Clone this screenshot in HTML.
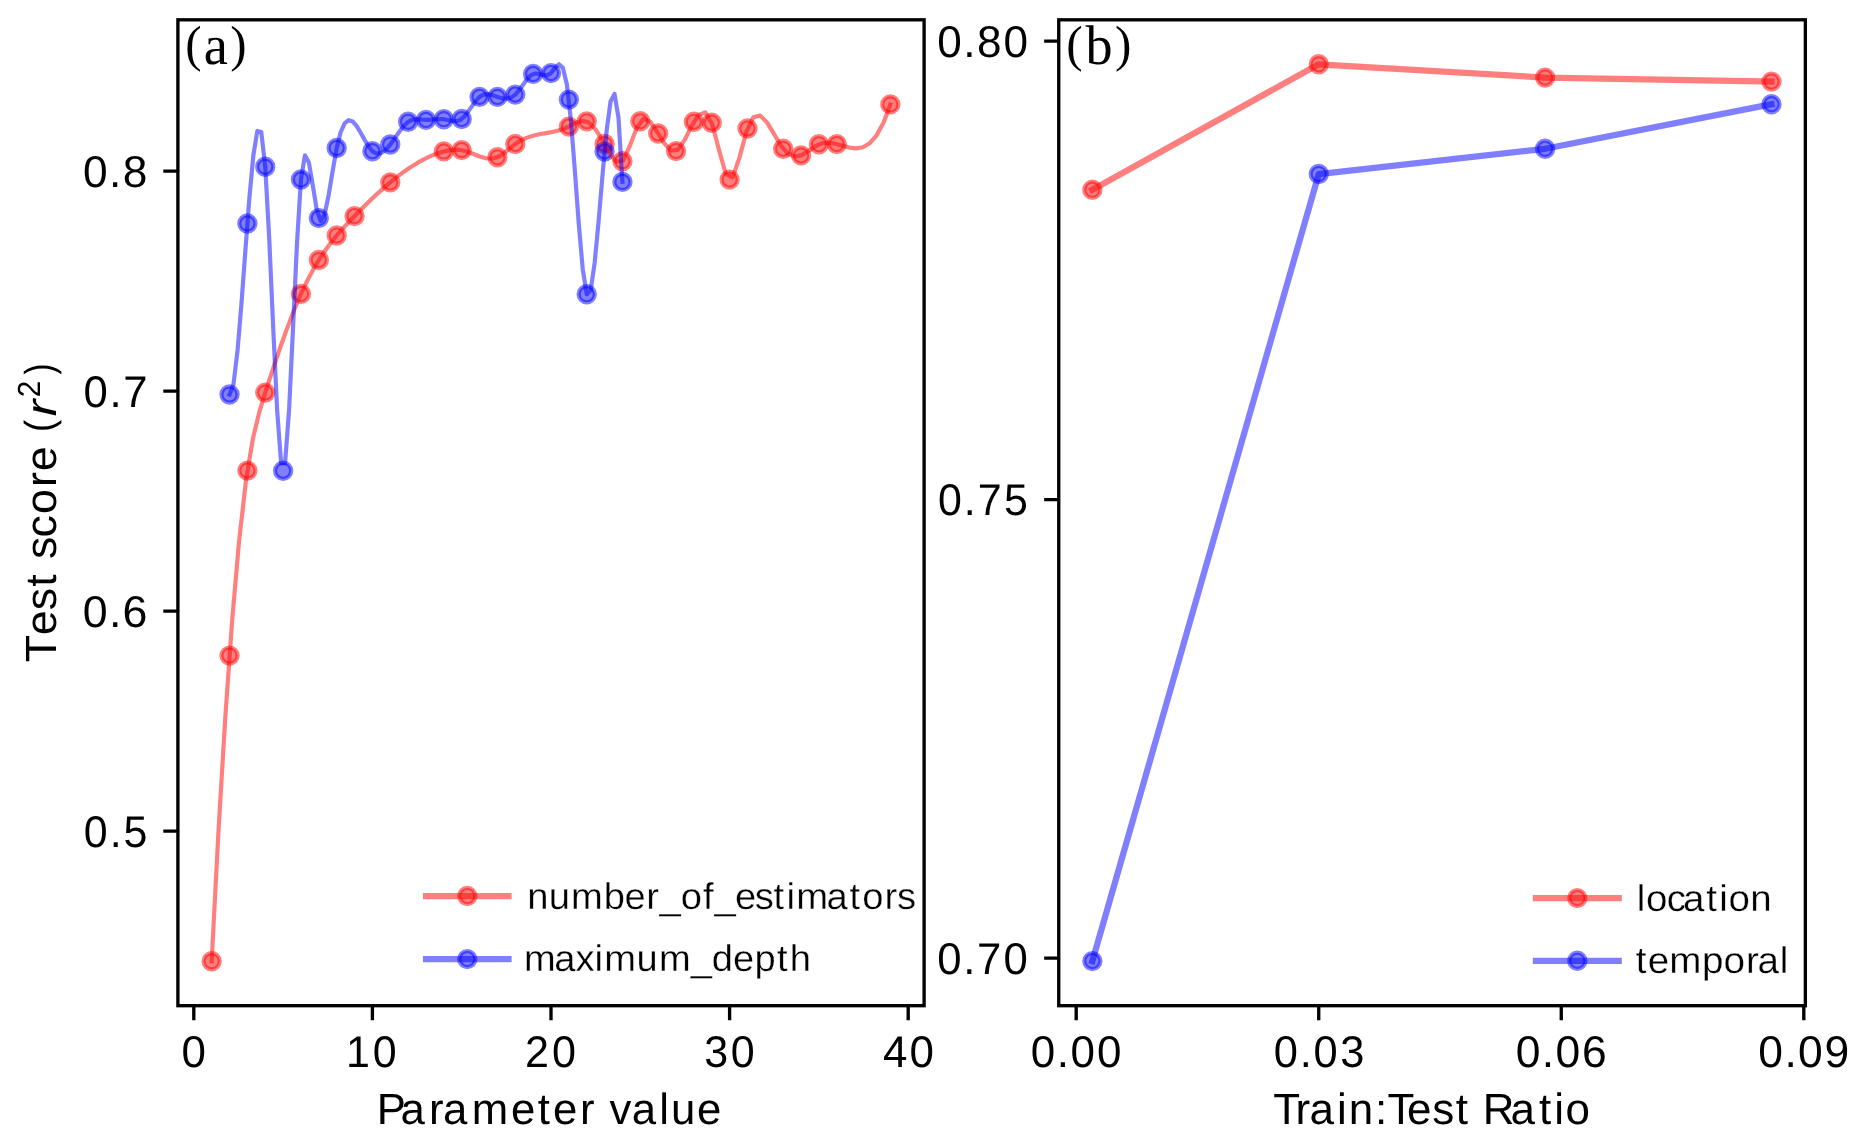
<!DOCTYPE html><html><head><meta charset="utf-8"><title>Test score vs parameter value and train:test ratio</title><style>html,body{margin:0;padding:0;background:#fff;}svg{display:block;will-change:transform;}text{font-kerning:none;font-variant-ligatures:none;text-rendering:geometricPrecision;}</style></head><body>
<svg width="1865" height="1143" viewBox="0 0 1865 1143">
<rect width="1865" height="1143" fill="#fff"/>
<g fill="#ff0000" fill-opacity="0.5" stroke="#ff0000" stroke-opacity="0.5" stroke-width="4.167">
<circle cx="211.66" cy="961.30" r="8.1"/>
<circle cx="229.52" cy="655.60" r="8.1"/>
<circle cx="247.38" cy="470.60" r="8.1"/>
<circle cx="265.24" cy="392.60" r="8.1"/>
<circle cx="300.96" cy="293.90" r="8.1"/>
<circle cx="318.82" cy="260.00" r="8.1"/>
<circle cx="336.68" cy="235.50" r="8.1"/>
<circle cx="354.54" cy="216.10" r="8.1"/>
<circle cx="390.26" cy="182.40" r="8.1"/>
<circle cx="443.84" cy="151.40" r="8.1"/>
<circle cx="461.70" cy="150.10" r="8.1"/>
<circle cx="497.42" cy="157.30" r="8.1"/>
<circle cx="515.28" cy="144.00" r="8.1"/>
<circle cx="568.86" cy="126.60" r="8.1"/>
<circle cx="586.72" cy="121.35" r="8.1"/>
<circle cx="604.58" cy="144.05" r="8.1"/>
<circle cx="622.44" cy="161.20" r="8.1"/>
<circle cx="640.30" cy="121.30" r="8.1"/>
<circle cx="658.16" cy="133.50" r="8.1"/>
<circle cx="676.02" cy="151.10" r="8.1"/>
<circle cx="693.88" cy="121.80" r="8.1"/>
<circle cx="711.74" cy="122.70" r="8.1"/>
<circle cx="729.60" cy="179.60" r="8.1"/>
<circle cx="747.46" cy="128.50" r="8.1"/>
<circle cx="783.18" cy="148.80" r="8.1"/>
<circle cx="801.04" cy="155.40" r="8.1"/>
<circle cx="818.90" cy="144.30" r="8.1"/>
<circle cx="836.76" cy="144.10" r="8.1"/>
<circle cx="890.34" cy="104.40" r="8.1"/>
</g>
<g fill="#0000ff" fill-opacity="0.5" stroke="#0000ff" stroke-opacity="0.5" stroke-width="4.167">
<circle cx="229.52" cy="394.50" r="8.1"/>
<circle cx="247.38" cy="223.50" r="8.1"/>
<circle cx="265.24" cy="166.80" r="8.1"/>
<circle cx="283.10" cy="470.80" r="8.1"/>
<circle cx="300.96" cy="179.45" r="8.1"/>
<circle cx="318.82" cy="218.10" r="8.1"/>
<circle cx="336.68" cy="148.00" r="8.1"/>
<circle cx="372.40" cy="151.20" r="8.1"/>
<circle cx="390.26" cy="144.50" r="8.1"/>
<circle cx="408.12" cy="121.80" r="8.1"/>
<circle cx="425.98" cy="119.90" r="8.1"/>
<circle cx="443.84" cy="119.20" r="8.1"/>
<circle cx="461.70" cy="119.00" r="8.1"/>
<circle cx="479.56" cy="96.85" r="8.1"/>
<circle cx="497.42" cy="96.90" r="8.1"/>
<circle cx="515.28" cy="94.60" r="8.1"/>
<circle cx="533.14" cy="73.90" r="8.1"/>
<circle cx="551.00" cy="73.10" r="8.1"/>
<circle cx="568.86" cy="99.60" r="8.1"/>
<circle cx="586.72" cy="294.20" r="8.1"/>
<circle cx="604.58" cy="151.60" r="8.1"/>
<circle cx="622.44" cy="181.90" r="8.1"/>
</g>
<polyline points="211.66,961.30 218.52,830.26 225.37,716.19 232.23,619.59 239.08,540.98 245.94,480.85 252.79,439.09 259.65,410.76 266.50,388.68 273.36,367.74 280.21,347.54 287.07,328.38 293.92,310.54 300.78,294.30 307.63,279.89 314.49,267.21 321.35,256.06 328.20,246.22 335.06,237.45 341.91,229.48 348.77,222.07 355.62,215.00 362.48,208.09 369.33,201.36 376.19,194.86 383.04,188.63 389.90,182.70 396.75,177.13 403.61,171.95 410.47,167.20 417.32,162.91 424.18,159.13 431.03,155.88 437.89,153.22 444.74,151.17 451.60,149.86 458.45,149.68 465.31,150.99 472.16,153.51 479.02,156.26 485.87,158.28 492.73,158.58 499.58,156.21 506.44,151.25 513.30,145.52 520.15,140.84 527.01,137.63 533.86,135.50 540.72,134.04 547.57,132.86 554.43,131.55 561.28,129.72 568.14,126.96 574.99,123.27 581.85,120.79 588.70,122.39 595.56,129.35 602.42,140.14 609.27,152.67 616.13,161.82 622.98,160.56 629.84,145.94 636.69,127.92 643.55,118.68 650.40,121.87 657.26,131.97 664.11,143.18 670.97,150.64 677.82,149.87 684.68,139.87 691.53,126.20 698.39,115.08 705.25,112.38 712.10,123.74 718.96,149.80 725.81,174.17 732.67,177.40 739.52,157.36 746.38,131.80 753.23,117.27 760.09,115.50 766.94,122.35 773.80,133.66 780.65,145.28 787.51,153.23 794.37,156.33 801.22,155.33 808.08,151.31 814.93,146.49 821.79,143.28 828.64,142.65 835.50,143.78 842.35,145.73 849.21,147.57 856.06,148.39 862.92,147.24 869.77,143.19 876.63,135.33 883.48,122.70 890.34,104.40" fill="none" stroke="#ff0000" stroke-opacity="0.5" stroke-width="4.167" stroke-linejoin="round" stroke-linecap="square"/>
<polyline points="229.52,394.50 233.49,384.17 237.46,351.32 241.43,304.00 245.40,250.26 249.36,198.15 253.33,155.70 257.30,130.96 261.27,131.98 265.24,166.80 269.21,238.13 273.18,327.31 277.15,410.32 281.12,463.18 285.08,462.90 289.05,409.98 293.02,328.42 296.99,243.24 300.96,179.45 304.93,155.38 308.90,162.58 312.87,185.93 316.84,210.28 320.80,220.95 324.77,213.70 328.74,194.71 332.71,170.60 336.68,148.00 340.65,132.24 344.62,123.39 348.59,120.22 352.56,121.49 356.52,125.96 360.49,132.40 364.46,139.58 368.43,146.26 372.40,151.20 376.37,153.45 380.34,153.18 384.31,150.86 388.28,146.93 392.24,141.85 396.21,136.17 400.18,130.51 404.15,125.51 408.12,121.80 412.09,119.81 416.06,119.18 420.03,119.35 424.00,119.77 427.96,119.90 431.93,119.62 435.90,119.20 439.87,118.96 443.84,119.20 447.81,120.05 451.78,120.98 455.75,121.28 459.72,120.24 463.68,117.20 467.65,112.31 471.62,106.60 475.59,101.09 479.56,96.85 483.53,94.64 487.50,94.17 491.47,94.87 495.44,96.19 499.40,97.56 503.37,98.49 507.34,98.58 511.31,97.41 515.28,94.60 519.25,89.98 523.22,84.43 527.19,79.08 531.16,75.06 535.12,73.44 539.09,73.99 543.06,75.18 547.03,75.41 551.00,73.10 554.97,67.87 558.94,64.22 562.91,67.89 566.88,84.58 570.84,119.66 574.81,169.96 578.78,223.84 582.75,269.27 586.72,294.20 590.69,290.14 594.66,262.70 598.63,220.98 602.60,174.11 606.56,131.22 610.53,101.43 614.50,93.87 618.47,117.65 622.44,181.90" fill="none" stroke="#0000ff" stroke-opacity="0.5" stroke-width="4.167" stroke-linejoin="round" stroke-linecap="square"/>
<g fill="#ff0000" fill-opacity="0.5" stroke="#ff0000" stroke-opacity="0.5" stroke-width="4.167">
<circle cx="1092.37" cy="189.70" r="8.1"/>
<circle cx="1318.73" cy="64.30" r="8.1"/>
<circle cx="1545.10" cy="77.60" r="8.1"/>
<circle cx="1771.46" cy="81.60" r="8.1"/>
</g>
<polyline points="1092.37,189.70 1318.73,64.30 1545.10,77.60 1771.46,81.60" fill="none" stroke="#ff0000" stroke-opacity="0.5" stroke-width="6.25" stroke-linejoin="round" stroke-linecap="square"/>
<g fill="#0000ff" fill-opacity="0.5" stroke="#0000ff" stroke-opacity="0.5" stroke-width="4.167">
<circle cx="1092.37" cy="961.10" r="8.1"/>
<circle cx="1318.73" cy="174.05" r="8.1"/>
<circle cx="1545.10" cy="148.80" r="8.1"/>
<circle cx="1771.46" cy="104.20" r="8.1"/>
</g>
<polyline points="1092.37,961.10 1318.73,174.05 1545.10,148.80 1771.46,104.20" fill="none" stroke="#0000ff" stroke-opacity="0.5" stroke-width="6.25" stroke-linejoin="round" stroke-linecap="square"/>
<rect x="177.9" y="19.8" width="746.20" height="985.90" fill="none" stroke="#000" stroke-width="3.333"/>
<rect x="1058.75" y="19.8" width="746.60" height="985.90" fill="none" stroke="#000" stroke-width="3.333"/>
<path d="M193.80,1005.70V1020.28 M372.40,1005.70V1020.28 M551.00,1005.70V1020.28 M729.60,1005.70V1020.28 M908.20,1005.70V1020.28 M177.90,831.16H163.32 M177.90,611.16H163.32 M177.90,391.16H163.32 M177.90,171.16H163.32 M1076.20,1005.70V1020.28 M1318.73,1005.70V1020.28 M1561.26,1005.70V1020.28 M1803.80,1005.70V1020.28 M1058.75,41.14H1044.17 M1058.75,499.63H1044.17 M1058.75,958.12H1044.17" stroke="#000" stroke-width="3.333" fill="none"/>
<g><text transform="translate(0,186.71) scale(1.0055,1.0116)" x="82.60 108.49 122.14" y="0" font-family="Liberation Sans" font-size="44.0">0.8</text><text transform="translate(0,406.71) scale(0.9911,1.0075)" x="84.35 110.52 124.38" y="0" font-family="Liberation Sans" font-size="44.0">0.7</text><text transform="translate(0,626.71) scale(1.0162,1.0116)" x="81.49 107.17 120.61" y="0" font-family="Liberation Sans" font-size="44.0">0.6</text><text transform="translate(0,846.71) scale(0.9752,1.0101)" x="85.96 112.45 126.56" y="0" font-family="Liberation Sans" font-size="44.0">0.5</text><text transform="translate(0,56.89) scale(1.0032,1.0116)" x="934.23 960.15 973.85 1000.28" y="0" font-family="Liberation Sans" font-size="44.0">0.80</text><text transform="translate(0,515.38) scale(0.9756,1.0086)" x="961.48 987.96 1002.14 1029.23" y="0" font-family="Liberation Sans" font-size="44.0">0.75</text><text transform="translate(0,973.87) scale(0.9933,1.0116)" x="943.65 969.78 983.59 1010.36" y="0" font-family="Liberation Sans" font-size="44.0">0.70</text><text transform="translate(0,1066.70) scale(0.9982,1.0116)" x="181.91" y="0" font-family="Liberation Sans" font-size="44.0">0</text><text transform="translate(0,1066.70) scale(0.9770,1.0075)" x="354.22 381.57" y="0" font-family="Liberation Sans" font-size="44.0">10</text><text transform="translate(0,1066.70) scale(0.9806,1.0091)" x="535.41 563.00" y="0" font-family="Liberation Sans" font-size="44.0">20</text><text transform="translate(0,1066.70) scale(0.9785,1.0116)" x="719.66 746.70" y="0" font-family="Liberation Sans" font-size="44.0">30</text><text transform="translate(0,1066.70) scale(0.9983,1.0075)" x="884.59 911.15" y="0" font-family="Liberation Sans" font-size="44.0">40</text><text transform="translate(0,1066.70) scale(0.9999,1.0116)" x="1030.96 1056.95 1070.71 1097.23" y="0" font-family="Liberation Sans" font-size="44.0">0.00</text><text transform="translate(0,1066.70) scale(0.9876,1.0116)" x="1289.81 1316.05 1330.06 1356.96" y="0" font-family="Liberation Sans" font-size="44.0">0.03</text><text transform="translate(0,1066.70) scale(1.0106,1.0116)" x="1499.87 1525.66 1539.21 1565.45" y="0" font-family="Liberation Sans" font-size="44.0">0.06</text><text transform="translate(0,1066.70) scale(1.0099,1.0116)" x="1741.12 1766.91 1780.48 1806.60" y="0" font-family="Liberation Sans" font-size="44.0">0.09</text><text transform="translate(0,1124.00) scale(0.9939,0.9925)" x="379.14 402.90 431.66 445.83 474.69 514.07 541.11 556.30 583.45 598.10 613.32 635.75 663.35 675.02 701.37" y="0" font-family="Liberation Sans" font-size="44.0">Parameter value</text><text transform="translate(0,1124.10) scale(0.9995,0.9929)" x="1274.01 1296.09 1310.15 1337.66 1349.38 1375.66 1388.09 1407.84 1432.97 1456.48 1468.71 1483.39 1511.15 1539.68 1555.00 1566.19" y="0" font-family="Liberation Sans" font-size="44.0">Train:Test Ratio</text></g>
<g transform="translate(56.2,661.27) rotate(-90)"><text transform="translate(0,0.00) scale(1.0165,0.9925)" x="-0.91 25.50 50.23 73.43 85.65 100.69 121.85 144.92 171.55 187.00 211.47" y="0" font-family="Liberation Sans" font-size="44.0">Test score </text><text transform="translate(229.30,-3.10) scale(0.8315,0.9221)" font-family="Liberation Sans" font-size="44.0">(</text><text transform="translate(245.04,-0.10) scale(1.1360,0.9799)" font-family="Liberation Sans" font-size="44.0" font-style="italic">r</text><text transform="translate(264.07,-15.80) scale(0.6785,0.7258)" font-family="Liberation Sans" font-size="44.0">2</text><text transform="translate(286.88,-3.17) scale(0.7458,0.9185)" font-family="Liberation Sans" font-size="44.0">)</text></g>
<text transform="scale(0.9674,1)" font-family="Liberation Serif"><tspan x="191.59" y="61.20" font-size="50.73">(</tspan><tspan x="210.73" y="64.45" font-size="56.16">a</tspan><tspan x="237.98" y="61.20" font-size="50.73">)</tspan></text>
<text transform="scale(0.9703,1)" font-family="Liberation Serif"><tspan x="1098.97" y="61.20" font-size="50.73">(</tspan><tspan x="1118.71" y="64.46" font-size="55.71">b</tspan><tspan x="1149.19" y="61.20" font-size="50.73">)</tspan></text>
<line x1="422.9" y1="896.0" x2="511.6" y2="896.0" stroke="#ff0000" stroke-opacity="0.5" stroke-width="6.25"/>
<g fill="#ff0000" fill-opacity="0.5" stroke="#ff0000" stroke-opacity="0.5" stroke-width="4.167">
<circle cx="467.25" cy="896.00" r="8.1"/>
</g>
<line x1="422.9" y1="959.1" x2="511.6" y2="959.1" stroke="#0000ff" stroke-opacity="0.5" stroke-width="6.25"/>
<g fill="#0000ff" fill-opacity="0.5" stroke="#0000ff" stroke-opacity="0.5" stroke-width="4.167">
<circle cx="467.25" cy="959.10" r="8.1"/>
</g>
<line x1="1532.8" y1="898.1" x2="1621.8" y2="898.1" stroke="#ff0000" stroke-opacity="0.5" stroke-width="6.25"/>
<g fill="#ff0000" fill-opacity="0.5" stroke="#ff0000" stroke-opacity="0.5" stroke-width="4.167">
<circle cx="1577.30" cy="898.10" r="8.1"/>
</g>
<line x1="1532.8" y1="960.8" x2="1621.8" y2="960.8" stroke="#0000ff" stroke-opacity="0.5" stroke-width="6.25"/>
<g fill="#0000ff" fill-opacity="0.5" stroke="#0000ff" stroke-opacity="0.5" stroke-width="4.167">
<circle cx="1577.30" cy="960.80" r="8.1"/>
</g>
<g><text transform="translate(0,909.10) scale(0.8674,0.8458)" x="607.79 632.52 658.27 696.03 720.12 745.08 760.45 784.78 810.49 823.81 847.48 870.01 891.79 906.63 917.87 952.78 979.51 994.11 1019.84 1034.01" y="0" font-family="Liberation Sans" font-size="44.0" stroke="#fff" stroke-width="0.346">number_of_estimators</text><text transform="translate(0,971.20) scale(0.8657,0.8458)" x="605.37 640.34 664.74 686.65 697.94 735.30 761.11 798.05 822.05 846.83 871.46 897.62 912.33" y="0" font-family="Liberation Sans" font-size="44.0" stroke="#fff" stroke-width="0.347">maximum_depth</text><text transform="translate(0,910.80) scale(0.8745,0.8454)" x="1871.74 1882.28 1905.93 1924.59 1951.16 1965.88 1976.43 2001.43" y="0" font-family="Liberation Sans" font-size="44.0" stroke="#fff" stroke-width="0.343">location</text><text transform="translate(0,972.70) scale(0.8776,0.8454)" x="1863.91 1877.63 1902.16 1939.51 1964.01 1989.48 2002.67 2028.10" y="0" font-family="Liberation Sans" font-size="44.0" stroke="#fff" stroke-width="0.342">temporal</text></g>
</svg></body></html>
